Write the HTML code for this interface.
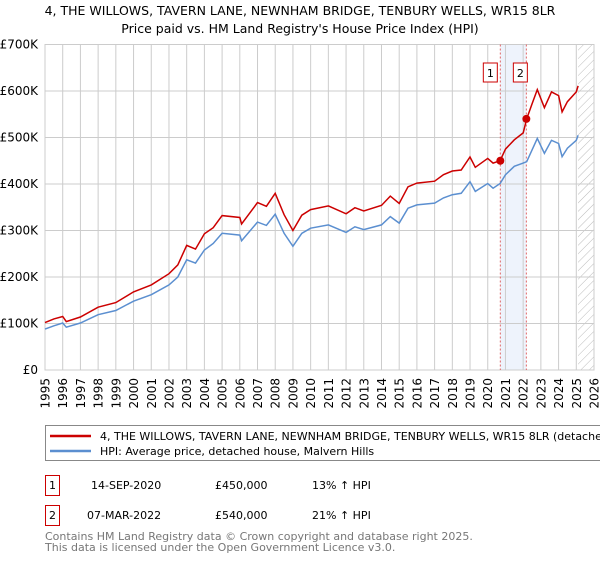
<!DOCTYPE html>
<html><head><meta charset="utf-8"><style>
body{margin:0;background:#fff;font-family:"Liberation Sans","DejaVu Sans",sans-serif}
svg text{font-family:"DejaVu Sans","Liberation Sans",sans-serif}
</style></head><body>
<svg id="c" width="600" height="560" xmlns="http://www.w3.org/2000/svg">
<text x="300" y="15" text-anchor="middle" font-size="12.5">4, THE WILLOWS, TAVERN LANE, NEWNHAM BRIDGE, TENBURY WELLS, WR15 8LR</text>
<text x="300" y="33" text-anchor="middle" font-size="12.5">Price paid vs. HM Land Registry's House Price Index (HPI)</text>
<g id="grid"></g><g id="axes"></g><g id="series"></g>
<g>
<rect x="45.5" y="425.5" width="570" height="35" fill="#fff" stroke="#888"/>
<line x1="50" y1="436" x2="91" y2="436" stroke="#cc0000" stroke-width="2.5"/>
<text x="100" y="440" font-size="11">4, THE WILLOWS, TAVERN LANE, NEWNHAM BRIDGE, TENBURY WELLS, WR15 8LR (detached house)</text>
<line x1="50" y1="451" x2="91" y2="451" stroke="#5b8fd0" stroke-width="2.5"/>
<text x="100" y="455" font-size="11">HPI: Average price, detached house, Malvern Hills</text>
</g>
<g font-size="11">
<rect x="45.5" y="475.5" width="14" height="20" fill="#fff" stroke="#cc0000"/><text x="52.5" y="489" text-anchor="middle">1</text>
<text x="91" y="489">14-SEP-2020</text><text x="215" y="489">£450,000</text><text x="312" y="489">13% ↑ HPI</text>
<rect x="45.5" y="505.5" width="14" height="20" fill="#fff" stroke="#cc0000"/><text x="52.5" y="519" text-anchor="middle">2</text>
<text x="87" y="519">07-MAR-2022</text><text x="215" y="519">£540,000</text><text x="312" y="519">21% ↑ HPI</text>
</g>
<text x="45" y="540" font-size="11" fill="#777">Contains HM Land Registry data © Crown copyright and database right 2025.</text>
<text x="45" y="551" font-size="11" fill="#777">This data is licensed under the Open Government Licence v3.0.</text>
</svg>
<script>
const years=[1995,1996,1997,1998,1999,2000,2001,2002,2003,2004,2005,2006,2007,2008,2009,2010,2011,2012,2013,2014,2015,2016,2017,2018,2019,2020,2021,2022,2023,2024,2025,2026];
const yTicks=[0,100,200,300,400,500,600,700];
const tX=[1995,1995.5,1996,1996.2,1997,1998,1999,2000,2001,2002,2002.5,2003,2003.5,2004,2004.5,2005,2006,2006.1,2007,2007.5,2008,2008.5,2009,2009.5,2010,2011,2012,2012.5,2013,2014,2014.5,2015,2015.5,2016,2017,2017.5,2018,2018.5,2019,2019.3,2020,2020.3,2020.7,2021,2021.5,2022,2022.2,2022.5,2022.8,2023.2,2023.6,2024,2024.2,2024.5,2025,2025.1];
const hpi=[88,95,101,92,101,119,128,148,162,183,200,237,230,258,272,294,290,278,318,311,335,294,266,294,305,312,296,308,302,312,330,316,348,355,359,370,377,380,405,384,401,391,401,420,438,445,448,473,498,466,494,487,459,477,494,505];
const price=[102,110,115,104,114,135,145,168,183,207,226,268,260,293,306,332,328,314,360,352,380,334,300,333,345,353,336,349,342,354,374,358,394,402,406,420,428,430,458,436,455,445,450,475,495,510,540,572,603,564,598,590,555,577,598,611];
const sales=[[2020.71,450],[2022.18,540]];
const L=45,R=594,T=44.5,B=370;
const x=v=>L+(v-1995)/(2026-1995)*(R-L);
const y=v=>B-v/700*(B-T);
const NS='http://www.w3.org/2000/svg';
function mk(p,t,a){const e=document.createElementNS(NS,t);for(const k in a)e.setAttribute(k,a[k]);p.appendChild(e);return e;}
const g=document.getElementById('grid'),ax=document.getElementById('axes'),s=document.getElementById('series');
const band=mk(g,'rect',{x:x(sales[0][0]),y:T,width:x(sales[1][0])-x(sales[0][0]),height:B-T,fill:'#eef3fc'});


const defs=mk(g,'defs',{});const pat=mk(defs,'pattern',{id:'h',width:6,height:6,patternUnits:'userSpaceOnUse',patternTransform:'rotate(45)'});
mk(pat,'line',{x1:0,y1:0,x2:0,y2:6,stroke:'#bbb','stroke-width':1});
const hatch=mk(g,'rect',{x:x(2025.1),y:T,width:R-x(2025.1),height:B-T,fill:'url(#h)'});


years.forEach(yr=>{
 const l=mk(g,'line',{x1:x(yr),y1:T,x2:x(yr),y2:B,stroke:'#ccc'});
 
 
 const tx=x(yr)+4.5;
 const t=mk(ax,'text',{x:tx,y:378,'text-anchor':'end','font-size':12,transform:'rotate(-90 '+tx+' 378)'});t.textContent=yr;
 
 
});
yTicks.forEach(v=>{
 const l=mk(g,'line',{x1:L,y1:y(v),x2:R,y2:y(v),stroke:'#ccc'});
 
 
 const t=mk(ax,'text',{x:38,y:y(v)+4,'text-anchor':'end','font-size':12});t.textContent=v===0?'£0':'£'+v+'K';
 
 
});
sales.forEach((sd,i)=>{
 const l=mk(s,'line',{x1:x(sd[0]),y1:T,x2:x(sd[0]),y2:B,stroke:'#e06666','stroke-dasharray':'2,2'});
 
 
 const bx=mk(s,'rect',{x:x(sd[0])-17+i*4,y:63,width:14,height:19,fill:'#fff',stroke:'#cc0000'});
 
 
 const t=mk(s,'text',{x:x(sd[0])-10+i*4,y:77,'text-anchor':'middle','font-size':11});t.textContent=i+1;
 
 
});
function path(arr,col,name){
 const d=arr.map((v,i)=>(i?'L':'M')+x(tX[i]).toFixed(1)+','+y(v).toFixed(1)).join('');
 const p=mk(s,'path',{d:d,fill:'none',stroke:col,'stroke-width':1.5});
 
 
}
path(hpi,'#5b8fd0','hpi-line');
path(price,'#cc0000','property-line');
sales.forEach(sd=>{
 const c=mk(s,'circle',{cx:x(sd[0]),cy:y(sd[1]),r:4,fill:'#cc0000'});
 
 
});
mk(ax,'rect',{x:L,y:T,width:R-L,height:B-T,fill:'none',stroke:'#ccc'});
</script>
</body></html>
